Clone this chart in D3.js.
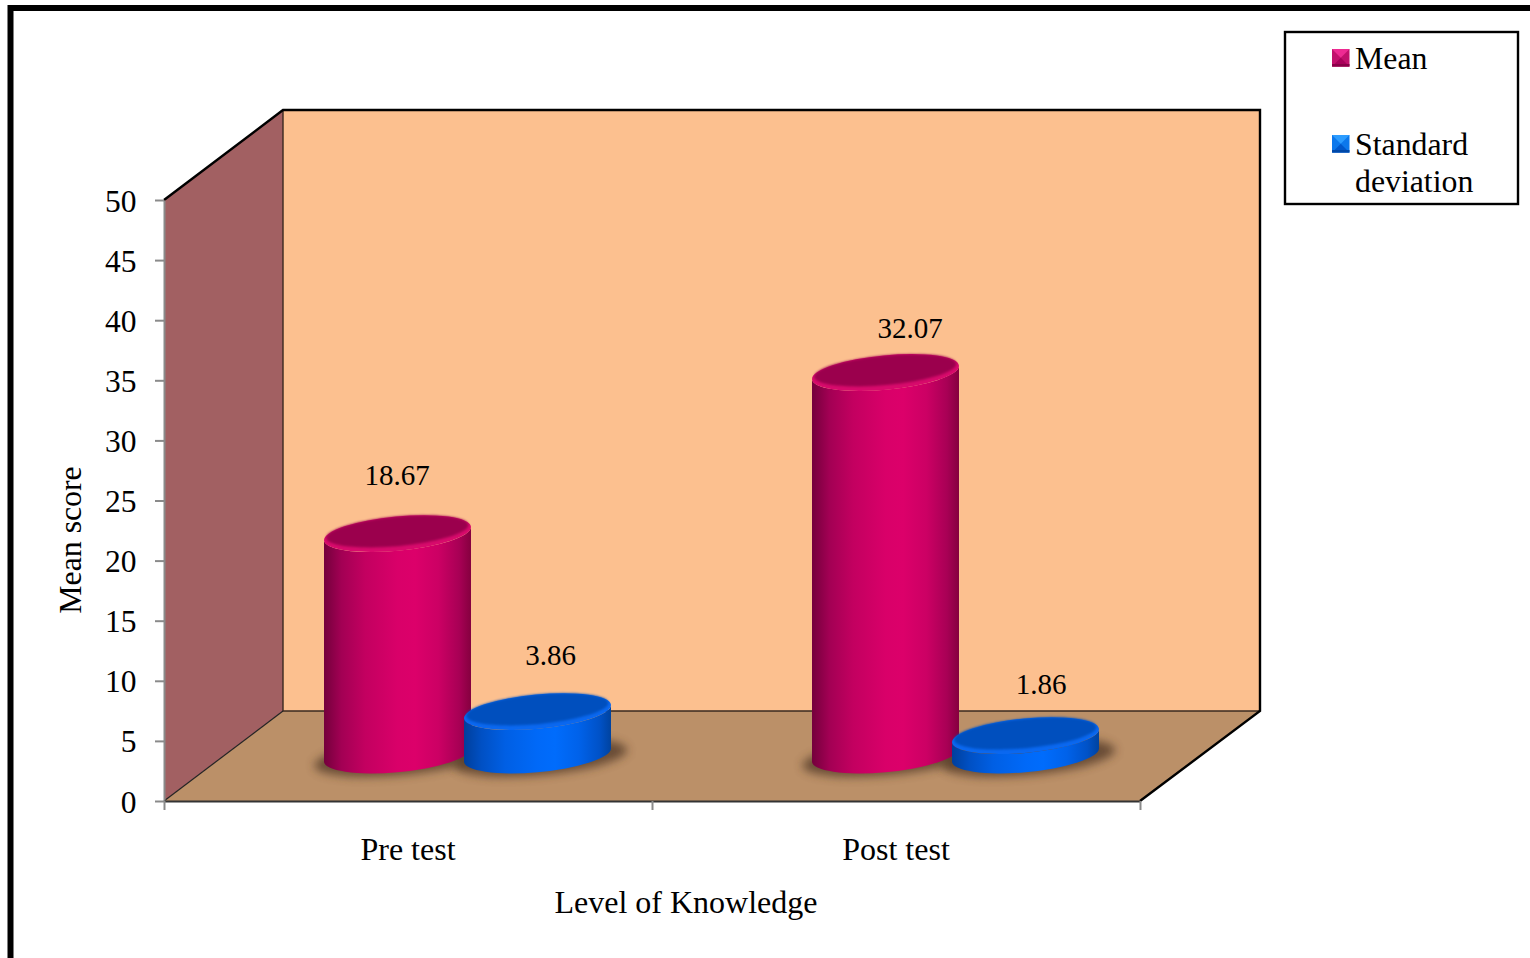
<!DOCTYPE html>
<html><head><meta charset="utf-8">
<script src="https://cdn.jsdelivr.net/npm/d3@7"></script>
<style>html,body{margin:0;padding:0;background:#fff}svg{display:block}text{font-family:"Liberation Serif","Times New Roman",serif;fill:#000}</style>
</head><body><svg id="c" width="1530" height="958"></svg>
<script>
const categories = ["Pre test", "Post test"];
const seriesNames = ["Mean", "Standard deviation"];
const meanValues = [18.67, 32.07];
const sdValues = [3.86, 1.86];
const yTicks = [0, 5, 10, 15, 20, 25, 30, 35, 40, 45, 50];

const svg = d3.select("#c");
const defs = svg.append("defs");
const palette = {
  Mean: {stops:["#74003c","#a30054","#c30060","#d90069","#dc006a","#cc0064","#a80055","#85003f"], top:"#9b004e", rim:"#d80a6c", sw:["#ee2a92","#c2106c","#8a0048","#a8005a"]},
  "Standard deviation": {stops:["#003f9c","#0050c4","#005fe4","#0069f8","#006cfc","#0062ea","#0052c8","#00439f"], top:"#0050be", rim:"#0a68f0", sw:["#2c9cff","#0c78ec","#0048a8","#0058cc"]}
};
seriesNames.forEach((s,i)=>{
  const g = defs.append("linearGradient").attr("id","grad"+i).attr("x1",0).attr("x2",1).attr("y1",0).attr("y2",0);
  palette[s].stops.forEach((c,j)=>g.append("stop").attr("offset",[0,.12,.28,.5,.62,.78,.92,1][j]).attr("stop-color",c));
});
defs.append("filter").attr("id","blur").attr("x","-30%").attr("y","-60%").attr("width","160%").attr("height","220%")
  .append("feGaussianBlur").attr("stdDeviation",5);
defs.append("filter").attr("id","soft").attr("x","-10%").attr("y","-30%").attr("width","120%").attr("height","160%")
  .append("feGaussianBlur").attr("stdDeviation",1.1);

const y = d3.scaleLinear().domain([0,50]).range([801,200]);
const x0 = d3.scaleBand().domain(categories).range([164,1140]);
const x1 = d3.scalePoint().domain(seriesNames).range([233.5,373.5]);
const edges = d3.scaleLinear().domain([0,categories.length]).range([164,1140]);
const depth = {dx:119, dy:-90};
const L = y.range()[1], B = y.range()[0], X0 = 164, X1 = 1140;

// frame
svg.append("path").attr("d","M10.5 958 L10.5 8 L1530 8").attr("fill","none").attr("stroke","#000").attr("stroke-width",6);

// walls
svg.append("path").attr("d",`M${X0} ${L}L${X0+depth.dx} ${L+depth.dy}L${X0+depth.dx} ${B+depth.dy}L${X0} ${B}Z`).attr("fill","#a26062");
svg.append("path").attr("d",`M${X0+depth.dx} ${L+depth.dy}H${X1+depth.dx+1}V${B+depth.dy}H${X0+depth.dx}Z`).attr("fill","#fcc08f");
svg.append("path").attr("d",`M${X0} ${B}L${X0+depth.dx} ${B+depth.dy}H${X1+depth.dx+1}L${X1} ${B}Z`).attr("fill","#bb9068");
svg.append("path").attr("d",`M${X0+depth.dx} ${L+depth.dy}V${B+depth.dy}H${X1+depth.dx+1}`).attr("fill","none").attr("stroke","#3a2a20").attr("stroke-width",1.4);
svg.append("path").attr("d",`M${X0} ${L}L${X0+depth.dx} ${L+depth.dy}H${X1+depth.dx+1}V${B+depth.dy}L${X1} ${B}`).attr("fill","none").attr("stroke","#000").attr("stroke-width",2.4);
svg.append("path").attr("d",`M${X0} ${B}L${X0+depth.dx} ${B+depth.dy}`).attr("fill","none").attr("stroke","#222").attr("stroke-width",1.2);

// axes
const yAxis = svg.append("g").attr("transform",`translate(${X0},0)`).call(d3.axisLeft(y).tickValues(yTicks).tickSize(9).tickSizeOuter(0).tickPadding(18.5));
yAxis.selectAll("line").attr("stroke","#8a8a8a").attr("stroke-width",2);
yAxis.select(".domain").attr("stroke","#8a8a8a").attr("stroke-width",2);
yAxis.selectAll("text").attr("font-size",31.5).attr("font-family",null).attr("dy","0.35em");

const xTickAxis = svg.append("g").attr("transform",`translate(0,${B})`)
  .call(d3.axisBottom(edges).ticks(categories.length).tickSize(9).tickSizeOuter(0).tickFormat(""));
xTickAxis.selectAll("line").attr("stroke","#8a8a8a").attr("stroke-width",2);
xTickAxis.select(".domain").attr("stroke","#333").attr("stroke-width",2.2);

const xAxis = svg.append("g").attr("transform",`translate(0,${B})`).call(d3.axisBottom(x0).tickSize(0).tickPadding(36.5));
xAxis.select(".domain").remove();
xAxis.selectAll("text").attr("font-size",32).attr("font-family",null);

// cylinders
const rx = 73.5, tiltY = 6.5, ea = 73.8, eb = 17.2, angle = -5.35, floorLift = 43, baseLift = 46;
const base = y(0) - baseLift;
const rows = categories.flatMap((c,i)=>[
  {c, s:seriesNames[0], v:meanValues[i]},
  {c, s:seriesNames[1], v:sdValues[i]}
]);
const cx = d => x0(d.c) + x1(d.s);
const topY = d => y(d.v) - floorLift;

const shadows = svg.append("g");
rows.forEach(d=>{
  shadows.append("ellipse").attr("cx",cx(d)+3).attr("cy",base+3).attr("rx",ea+13).attr("ry",eb)
    .attr("transform",`rotate(${angle} ${cx(d)} ${base})`).attr("fill","#4a3322").attr("opacity",.72).attr("filter","url(#blur)");
});
const bars = svg.selectAll("g.bar").data(rows.filter(d=>d.s===seriesNames[0]).concat(rows.filter(d=>d.s===seriesNames[1]))).join("g").attr("class","bar");
bars.append("path").attr("fill",d=>`url(#grad${seriesNames.indexOf(d.s)})`)
  .attr("d",d=>{
    const c=cx(d),t=topY(d);
    return `M${c-rx} ${t+tiltY}L${c-rx} ${base+tiltY}A${ea} ${eb} ${angle} 0 0 ${c+rx} ${base-tiltY}L${c+rx} ${t-tiltY}A${ea} ${eb} ${angle} 0 1 ${c-rx} ${t+tiltY}Z`;
  });
bars.append("ellipse").attr("cx",cx).attr("cy",topY).attr("rx",ea).attr("ry",eb)
  .attr("transform",d=>`rotate(${angle} ${cx(d)} ${topY(d)})`).attr("fill",d=>palette[d.s].rim);
bars.append("ellipse").attr("cx",cx).attr("cy",d=>topY(d)-2.2).attr("rx",ea-2.5).attr("ry",eb-2.4)
  .attr("transform",d=>`rotate(${angle} ${cx(d)} ${topY(d)})`).attr("fill",d=>palette[d.s].top).attr("filter","url(#soft)");

// value labels
const labelNudgeX = {"18.67":-0.5, "3.86":13, "32.07":24.5, "1.86":15.5};
const labelNudgeY = {"18.67":-48.5, "3.86":-47, "32.07":-35, "1.86":-42};
svg.selectAll("text.val").data(rows).join("text").attr("class","val")
  .attr("x",d=>cx(d)+labelNudgeX[d.v]).attr("y",d=>topY(d)+labelNudgeY[d.v])
  .attr("text-anchor","middle").attr("font-size",29).text(d=>d.v.toFixed(2));

// titles
svg.append("text").attr("x",686).attr("y",913).attr("text-anchor","middle").attr("font-size",32).text("Level of Knowledge");
svg.append("text").attr("transform","translate(81,540) rotate(-90)").attr("text-anchor","middle").attr("font-size",31.8).text("Mean score");

// legend
svg.append("rect").attr("x",1285).attr("y",32).attr("width",233).attr("height",172).attr("fill","#fff").attr("stroke","#000").attr("stroke-width",2.4);
const legendTop = {Mean:49, "Standard deviation":135};
const lg = svg.selectAll("g.lg").data(seriesNames).join("g").attr("class","lg").attr("transform",d=>`translate(1332,${legendTop[d]})`);
const S = 17.5, M = S/2;
lg.append("rect").attr("width",S).attr("height",S).attr("fill",d=>palette[d].sw[1]);
lg.append("path").attr("d",`M0 0H${S}L${M} ${M}Z`).attr("fill",d=>palette[d].sw[0]);
lg.append("path").attr("d",`M0 ${S}H${S}L${M} ${M}Z`).attr("fill",d=>palette[d].sw[3]);
lg.append("rect").attr("y",S-2.5).attr("width",S).attr("height",2.5).attr("fill",d=>palette[d].sw[2]);
const lt = lg.append("text").attr("x",23).attr("y",20).attr("font-size",31.8);
lt.selectAll("tspan").data(d=>d.split(" ")).join("tspan").attr("x",23).attr("dy",(d,i)=>i?37:0).text(d=>d);
</script></body></html>
